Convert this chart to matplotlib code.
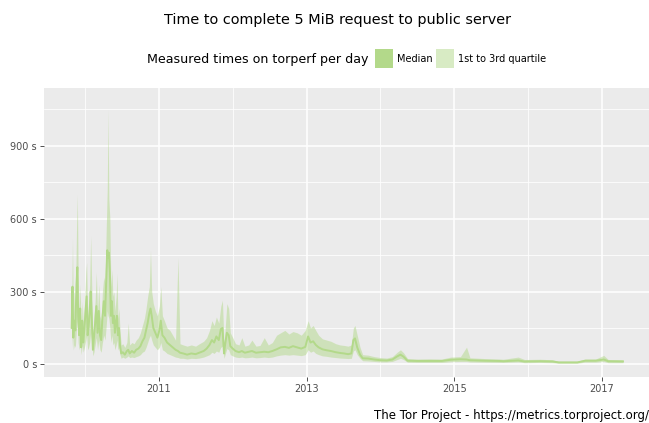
import matplotlib
matplotlib.use("Agg")
import matplotlib.pyplot as plt
import matplotlib.dates as mdates
import pandas as pd
from matplotlib.patches import Rectangle

dates = [
    "2009-10-26", "2009-10-30", "2009-11-03", "2009-11-08", "2009-11-13", "2009-11-19",
    "2009-11-23", "2009-11-27", "2009-12-02", "2009-12-07", "2009-12-12", "2009-12-17",
    "2009-12-22", "2009-12-28", "2010-01-04", "2010-01-08", "2010-01-13", "2010-01-18",
    "2010-01-23", "2010-01-28", "2010-02-02", "2010-02-08", "2010-02-13", "2010-02-19",
    "2010-02-25", "2010-03-03", "2010-03-09", "2010-03-15", "2010-03-21", "2010-03-27",
    "2010-04-03", "2010-04-09", "2010-04-15", "2010-04-20", "2010-04-24", "2010-04-28",
    "2010-05-03", "2010-05-08", "2010-05-13", "2010-05-18", "2010-05-23", "2010-05-28",
    "2010-06-03", "2010-06-07", "2010-06-12", "2010-06-17", "2010-06-22", "2010-06-28",
    "2010-07-06", "2010-07-16", "2010-07-26", "2010-08-02", "2010-08-09", "2010-08-20",
    "2010-08-31", "2010-09-10", "2010-09-21", "2010-10-01", "2010-10-11", "2010-10-21",
    "2010-10-29", "2010-11-06", "2010-11-14", "2010-11-20", "2010-11-26", "2010-12-04",
    "2010-12-14", "2010-12-24", "2011-01-03", "2011-01-10", "2011-01-18", "2011-01-28",
    "2011-02-10", "2011-02-24", "2011-03-10", "2011-03-24", "2011-04-05", "2011-04-15",
    "2011-05-01", "2011-05-20", "2011-06-10", "2011-07-01", "2011-07-20", "2011-08-10",
    "2011-08-25", "2011-09-08", "2011-09-20", "2011-10-01", "2011-10-12", "2011-10-24",
    "2011-11-03", "2011-11-11", "2011-11-19", "2011-11-24", "2011-12-03", "2011-12-12",
    "2011-12-20", "2012-01-01", "2012-01-15", "2012-02-01", "2012-02-15", "2012-03-01",
    "2012-03-20", "2012-04-05", "2012-04-25", "2012-05-15", "2012-06-05", "2012-06-25",
    "2012-07-15", "2012-08-05", "2012-08-25", "2012-09-15", "2012-10-05", "2012-10-25",
    "2012-11-15", "2012-12-05", "2012-12-25", "2013-01-08", "2013-01-20", "2013-02-02",
    "2013-02-15", "2013-03-01", "2013-03-20", "2013-04-10", "2013-05-01", "2013-05-25",
    "2013-06-15", "2013-07-05", "2013-07-25", "2013-08-10", "2013-08-20", "2013-08-28",
    "2013-09-08", "2013-09-22", "2013-10-05", "2013-11-01", "2013-12-01", "2014-01-01",
    "2014-02-01", "2014-03-01", "2014-03-25", "2014-04-10", "2014-04-25", "2014-05-15",
    "2014-07-01", "2014-09-01", "2014-11-01", "2014-12-15", "2015-02-01", "2015-03-03",
    "2015-03-20", "2015-06-01", "2015-08-15", "2015-09-01", "2015-11-14", "2015-12-15",
    "2016-03-01", "2016-05-01", "2016-06-01", "2016-09-01", "2016-10-10", "2016-12-01",
    "2017-01-10", "2017-02-01", "2017-04-15",
]

q1 = [
    70, 140, 60, 80, 70, 150, 180, 90, 60, 90, 40, 80,
    50, 70, 100, 120, 60, 70, 90, 130, 90, 35, 50, 80,
    110, 60, 100, 60, 50, 90, 120, 100, 160, 220, 200, 190,
    150, 90, 120, 80, 90, 60, 80, 100, 60, 70, 40, 25,
    30, 25, 30, 35, 28, 30, 28, 32, 35, 40, 50, 55,
    70, 90, 110, 120, 100, 80, 70, 60, 70, 90, 60, 55,
    45, 40, 35, 30, 28, 25, 25, 22, 25, 24, 26, 30,
    35, 40, 50, 45, 55, 50, 70, 75, 25, 40, 65, 60,
    40, 35, 30, 28, 30, 27, 28, 30, 27, 28, 30, 28,
    30, 35, 38, 40, 38, 40, 38, 36, 40, 60, 50, 55,
    45, 40, 35, 33, 30, 28, 26, 25, 24, 25, 55, 60,
    40, 25, 15, 14, 12, 10, 10, 12, 20, 25, 20, 9,
    8, 8, 8, 11, 12, 12, 10, 9, 8, 8, 10, 7,
    8, 7, 5, 5, 9, 9, 12, 7, 7,
]

median = [
    150, 320, 110, 180, 140, 330, 400, 200, 120, 230, 70, 180,
    90, 150, 230, 280, 120, 160, 210, 300, 200, 60, 110, 170,
    240, 130, 220, 120, 100, 190, 260, 200, 350, 470, 440, 460,
    380, 200, 260, 170, 200, 130, 180, 200, 120, 150, 80, 45,
    50, 40, 55, 60, 45, 55, 48, 60, 65, 75, 95, 110,
    140, 170, 210, 230, 200, 150, 130, 110, 140, 180, 120, 110,
    90, 80, 70, 60, 55, 48, 45, 40, 45, 42, 48, 55,
    65, 80, 100, 90, 115, 100, 145, 150, 45, 80, 130, 120,
    75, 65, 55, 50, 55, 48, 52, 55, 48, 50, 52, 50,
    55, 62, 70, 72, 68, 75, 70, 65, 72, 115, 90, 95,
    80, 70, 62, 58, 55, 50, 47, 45, 42, 45, 100, 107,
    70, 40, 25, 24, 20, 17, 16, 20, 33, 40, 32, 15,
    14, 14, 14, 19, 21, 20, 17, 15, 14, 13, 16, 12,
    13, 12, 8, 8, 15, 15, 20, 13, 12,
]

q3 = [
    260, 520, 200, 300, 250, 560, 700, 380, 220, 330, 130, 260,
    170, 240, 380, 420, 200, 260, 330, 530, 330, 110, 190, 260,
    380, 210, 330, 200, 180, 300, 360, 330, 560, 720, 1050, 680,
    600, 320, 390, 280, 300, 220, 280, 375, 190, 230, 140, 80,
    85, 70, 90, 170, 80, 90, 85, 100, 110, 130, 160, 190,
    230, 280, 320, 470, 300, 250, 220, 200, 240, 320, 200, 180,
    150, 140, 120, 100, 440, 85, 80, 75, 80, 75, 85, 95,
    110, 140, 180, 160, 195, 170, 240, 264, 80, 140, 250, 230,
    130, 110, 85, 80, 110, 75, 80, 100, 75, 78, 110, 80,
    90, 120, 130, 140, 125, 135, 130, 120, 140, 180, 150, 160,
    140, 120, 105, 100, 95, 85, 80, 78, 75, 80, 150, 160,
    120, 70, 40, 38, 32, 28, 26, 32, 50, 60, 48, 24,
    22, 23, 22, 30, 32, 71, 27, 24, 22, 21, 30, 20,
    21, 19, 13, 13, 22, 22, 37, 20, 19,
]

title = "Time to complete 5 MiB request to public server"
legend_title = "Measured times on torperf per day"
legend_labels = ["Median", "1st to 3rd quartile"]
y_ticks = [0, 300, 600, 900]
x_tick_years = [2011, 2013, 2015, 2017]
x_minor_years = [2010, 2012, 2014, 2016]
caption = "The Tor Project - https://metrics.torproject.org/"

green = "#b3d98a"

W, H = 649, 423
fig = plt.figure(figsize=(W / 100, H / 100), dpi=100)
ax = fig.add_axes([44 / W, 1 - 377 / H, 1 - 44 / W, (377 - 88) / H])
ax.set_facecolor("#ebebeb")

x = pd.to_datetime(dates)
ax.fill_between(x, q1, q3, color=green, alpha=0.5, linewidth=0, zorder=2)
ax.plot(x, median, color=green, linewidth=1.4, zorder=3)

ax.set_xlim(pd.Timestamp("2009-06-11"), pd.Timestamp("2017-08-22"))
ax.set_ylim(-52, 1138)

ax.set_yticks(y_ticks)
ax.set_yticklabels([f"{v} s" for v in y_ticks])
ax.set_yticks([150, 450, 750, 1050], minor=True)
ax.set_xticks([pd.Timestamp(f"{y}-01-01") for y in x_tick_years])
ax.set_xticklabels([str(y) for y in x_tick_years])
ax.set_xticks([pd.Timestamp(f"{y}-01-01") for y in x_minor_years], minor=True)

ax.grid(which="major", color="white", linewidth=1.1, zorder=1)
ax.grid(which="minor", color="white", linewidth=0.55, zorder=1)
ax.set_axisbelow(True)
for s in ax.spines.values():
    s.set_visible(False)
ax.tick_params(which="major", length=3, width=0.6, color="#333333",
               labelsize=7, labelcolor="#4d4d4d", pad=2)
ax.tick_params(which="minor", length=0)

fig.text(337 / W, 1 - 20 / H, title, ha="center", va="center", fontsize=10.4, color="black")

# legend
fig.text(147 / W, 1 - 59 / H, legend_title, ha="left", va="center", fontsize=9.1, color="black")
fig.patches.append(Rectangle((375 / W, 1 - 68 / H), 18 / W, 19 / H, transform=fig.transFigure,
                             facecolor=green, edgecolor="none"))
fig.text(397 / W, 1 - 59 / H, legend_labels[0], ha="left", va="center", fontsize=7, color="black")
fig.patches.append(Rectangle((436 / W, 1 - 68 / H), 18 / W, 19 / H, transform=fig.transFigure,
                             facecolor=green, alpha=0.5, edgecolor="none"))
fig.text(458 / W, 1 - 59 / H, legend_labels[1], ha="left", va="center", fontsize=7, color="black")

fig.text(1.0, 1 - 415 / H, caption, ha="right", va="center", fontsize=8.5, color="black")

fig.savefig("out.png", dpi=100)
